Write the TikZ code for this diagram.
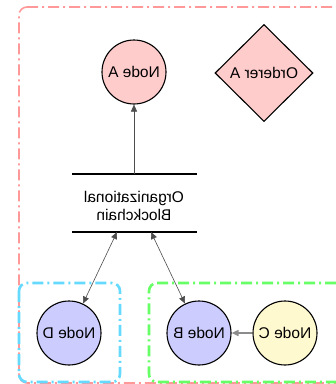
\documentclass[tikz,border=0pt]{standalone}
\usepackage{fontspec}
\setmainfont{Liberation Sans}
\usetikzlibrary{arrows.meta,shapes.geometric}
\definecolor{redc}{HTML}{FF9999}
\definecolor{cyanc}{HTML}{66D9FF}
\definecolor{greenc}{HTML}{66FF66}
\definecolor{pinkf}{HTML}{FFCCCC}
\definecolor{bluef}{HTML}{CCCCFF}
\definecolor{yelf}{HTML}{FFF9D0}
\newcommand{\mirr}[1]{\scalebox{-1}[1]{#1}}
\tikzset{
  circnode/.style={circle,draw=black,line width=1.1pt,minimum size=64pt,inner sep=0pt,font=\fontsize{15.5}{18}\selectfont},
  grp/.style={rounded corners=8pt,dash pattern=on 11pt off 4pt on 2pt off 4pt},
  arr/.style={-{Triangle[length=7pt,width=6pt]},line width=0.6pt,draw=black!70},
  barline/.style={line width=1.6pt}
}
\begin{document}
\begin{tikzpicture}[x=1pt,y=-1pt]
\useasboundingbox (0,0) rectangle (336,384);
% groups
\draw[grp,redc,line width=1.6pt] (19,7) -- (348,7) -- (348,383) -- (19,383) -- cycle;
\draw[grp,cyanc,line width=2.6pt] (19,283) rectangle (120,382);
\draw[grp,greenc,line width=2.6pt] (149,283) -- (348,283) -- (348,382) -- (149,382) -- cycle;
% nodes
\node[circnode,fill=pinkf] (A) at (134,72) {\mirr{Node A}};
\node[diamond,draw=black,line width=1.1pt,fill=pinkf,minimum width=98pt,minimum height=97pt,inner sep=0pt,font=\fontsize{15.5}{18}\selectfont] (O) at (264,73) {\mirr{Orderer A}};
\node[circnode,fill=bluef] (D) at (69,333) {\mirr{Node D}};
\node[circnode,fill=bluef] (B) at (199,333) {\mirr{Node B}};
\node[circnode,fill=yelf] (C) at (285,333) {\mirr{Node C}};
% blockchain
\coordinate (t1) at (72,174);
\coordinate (t2) at (197,174);
\coordinate (b1) at (72,232);
\coordinate (b2) at (197,232);
\draw[barline] (t1) -- (t2);
\draw[barline] (b1) -- (b2);
\node[align=center,font=\fontsize{15.5}{18}\selectfont] (BC) at (134,206) {\mirr{Organizational}\\\mirr{Blockchain}};
\coordinate (top) at (134,174);
\coordinate (bl) at (117,232);
\coordinate (br) at (151,232);
% connectors
\draw[arr] (top) -- (A);
\draw[arr,{Triangle[length=7pt,width=6pt]}-{Triangle[length=7pt,width=6pt]}] (bl) -- (D);
\draw[arr,{Triangle[length=7pt,width=6pt]}-{Triangle[length=7pt,width=6pt]}] (br) -- (B);
\draw[arr,draw=black!45,line width=1.6pt] (C) -- (B);
\end{tikzpicture}
\end{document}
